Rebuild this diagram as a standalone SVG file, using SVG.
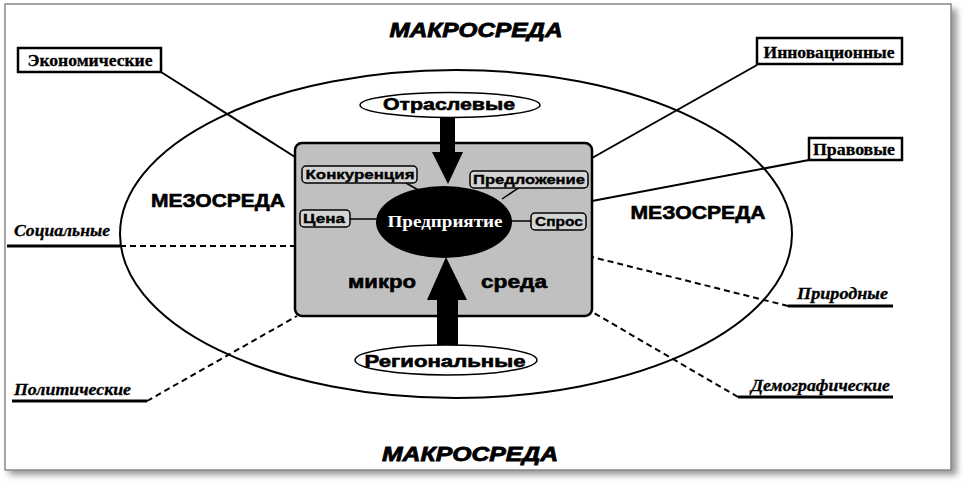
<svg xmlns="http://www.w3.org/2000/svg" width="966" height="485" viewBox="0 0 966 485">
<style>
.lbl{font-family:"Liberation Serif","Times New Roman",serif;font-weight:bold;font-size:16px;fill:#000;stroke:#000;stroke-width:0.3}
.it{font-family:"Liberation Serif","Times New Roman",serif;font-weight:bold;font-style:italic;font-size:16px;fill:#000;stroke:#000;stroke-width:0.3}
.big{font-family:"Liberation Sans",Arial,sans-serif;font-weight:bold;font-style:italic;font-size:20px;fill:#000;stroke:#000;stroke-width:0.8}
.mz{font-family:"Liberation Sans",Arial,sans-serif;font-weight:bold;font-size:19px;fill:#000;stroke:#000;stroke-width:0.6}
.sm{font-family:"Liberation Sans",Arial,sans-serif;font-weight:bold;font-size:13px;fill:#000;stroke:#000;stroke-width:0.35}
.ov{font-family:"Liberation Sans",Arial,sans-serif;font-weight:bold;font-size:17px;fill:#000;stroke:#000;stroke-width:0.6}
.box{fill:#fff;stroke:#000;stroke-width:2.5}
.rb{fill:#d4d4d4;stroke:#000;stroke-width:1.5}
.ln{stroke:#000;stroke-width:2;fill:none}
.dl{stroke:#000;stroke-width:2;fill:none;stroke-dasharray:6 4}
.ul{stroke:#000;stroke-width:3;fill:none}
</style>
<defs>
<filter id="sh" x="-5%" y="-5%" width="110%" height="110%"><feGaussianBlur stdDeviation="3"/></filter>
</defs>
<rect x="9" y="9" width="948" height="466" fill="#999" filter="url(#sh)"/>
<rect x="5" y="4" width="946" height="466" fill="#fff" stroke="#888" stroke-width="1.5"/>

<g id="macro-top"><text class="big" x="476" y="37" text-anchor="middle" textLength="173" lengthAdjust="spacingAndGlyphs">МАКРОСРЕДА</text></g>
<g id="macro-bottom"><text class="big" x="470" y="461" text-anchor="middle" textLength="176" lengthAdjust="spacingAndGlyphs">МАКРОСРЕДА</text></g>

<g id="meso-ellipse"><ellipse cx="456" cy="234" rx="336" ry="164" class="ln"/></g>

<g id="connectors">
<line x1="161" y1="72" x2="295" y2="157" class="ln"/>
<line x1="757" y1="65" x2="592" y2="158" class="ln"/>
<line x1="809" y1="160" x2="592" y2="201" class="ln"/>
<line x1="7" y1="246" x2="120" y2="246" class="ul"/>
<line x1="120" y1="246" x2="295" y2="246" class="dl"/>
<line x1="12" y1="401" x2="147" y2="401" class="ul"/>
<line x1="147" y1="401" x2="297" y2="316" class="dl"/>
<line x1="788" y1="306" x2="893" y2="306" class="ul"/>
<line x1="788" y1="306" x2="592" y2="257" class="dl"/>
<line x1="738" y1="397" x2="893" y2="397" class="ul"/>
<line x1="738" y1="397" x2="594" y2="313" class="dl"/>
</g>

<g id="micro">
<rect x="295" y="143" width="297" height="173" rx="7" fill="#c0c0c0" stroke="#000" stroke-width="2.5"/>
<text class="mz" x="382" y="288" text-anchor="middle" textLength="68" lengthAdjust="spacingAndGlyphs">микро</text>
<text class="mz" x="514" y="288" text-anchor="middle" textLength="66" lengthAdjust="spacingAndGlyphs">среда</text>
</g>

<g id="micro-links">
<line x1="406" y1="183" x2="420" y2="191" stroke="#000" stroke-width="1.5"/>
<line x1="520" y1="187" x2="502" y2="199" stroke="#000" stroke-width="1.5"/>
<line x1="350" y1="219" x2="377" y2="219" stroke="#000" stroke-width="1.5"/>
<line x1="511" y1="221" x2="531" y2="221" stroke="#000" stroke-width="1.5"/>
</g>

<g id="arrows">
<rect x="440" y="117" width="15" height="37" fill="#000"/>
<polygon points="432,152 463,152 448,184" fill="#000"/>
<polygon points="446,257 427,300 467,300" fill="#000"/>
<rect x="437" y="298" width="21" height="48" fill="#000"/>
</g>

<g id="enterprise">
<ellipse cx="444" cy="222" rx="68" ry="36" fill="#000"/>
<text x="445" y="227" text-anchor="middle" font-family="Liberation Serif, Times New Roman, serif" font-weight="bold" font-size="17" fill="#fff" textLength="115" lengthAdjust="spacingAndGlyphs">Предприятие</text>
</g>

<g id="konk"><rect class="rb" x="302" y="166" width="115" height="17" rx="4"/><text class="sm" x="360" y="179" text-anchor="middle" textLength="109" lengthAdjust="spacingAndGlyphs">Конкуренция</text></g>
<g id="predl"><rect class="rb" x="470" y="171" width="118" height="17" rx="4"/><text class="sm" x="529" y="184" text-anchor="middle" textLength="112" lengthAdjust="spacingAndGlyphs">Предложение</text></g>
<g id="cena"><rect class="rb" x="300" y="210" width="50" height="17" rx="4"/><text class="sm" x="324" y="223" text-anchor="middle" textLength="42" lengthAdjust="spacingAndGlyphs">Цена</text></g>
<g id="spros"><rect class="rb" x="531" y="213" width="55" height="17" rx="4"/><text class="sm" x="559" y="226" text-anchor="middle" textLength="48" lengthAdjust="spacingAndGlyphs">Спрос</text></g>

<g id="otrasl"><ellipse cx="450" cy="105" rx="90" ry="12.5" fill="#fff" stroke="#000" stroke-width="1.5"/><text class="ov" x="449" y="110" text-anchor="middle" textLength="132" lengthAdjust="spacingAndGlyphs">Отраслевые</text></g>
<g id="region"><ellipse cx="446" cy="360" rx="91" ry="15" fill="#fff" stroke="#000" stroke-width="1.5"/><text class="ov" x="445" y="367" text-anchor="middle" textLength="161" lengthAdjust="spacingAndGlyphs">Региональные</text></g>

<g id="meso-left"><text class="mz" x="218" y="207" text-anchor="middle" textLength="134" lengthAdjust="spacingAndGlyphs">МЕЗОСРЕДА</text></g>
<g id="meso-right"><text class="mz" x="698" y="219" text-anchor="middle" textLength="135" lengthAdjust="spacingAndGlyphs">МЕЗОСРЕДА</text></g>

<g id="econ"><rect class="box" x="18" y="48" width="143" height="24"/><text class="lbl" x="90" y="66" text-anchor="middle" textLength="125" lengthAdjust="spacingAndGlyphs">Экономические</text></g>
<g id="innov"><rect class="box" x="757" y="38" width="145" height="26"/><text class="lbl" x="829" y="58" text-anchor="middle" textLength="131" lengthAdjust="spacingAndGlyphs">Инновационные</text></g>
<g id="pravo"><rect class="box" x="809" y="138" width="93" height="22"/><text class="lbl" x="854" y="155" text-anchor="middle" textLength="82" lengthAdjust="spacingAndGlyphs">Правовые</text></g>

<g id="soc"><text class="it" x="14" y="236" textLength="96" lengthAdjust="spacingAndGlyphs">Социальные</text></g>
<g id="polit"><text class="it" x="14" y="395" textLength="117" lengthAdjust="spacingAndGlyphs">Политические</text></g>
<g id="prirod"><text class="it" x="797" y="299" textLength="91" lengthAdjust="spacingAndGlyphs">Природные</text></g>
<g id="demogr"><text class="it" x="751" y="391" textLength="139" lengthAdjust="spacingAndGlyphs">Демографические</text></g>
</svg>
